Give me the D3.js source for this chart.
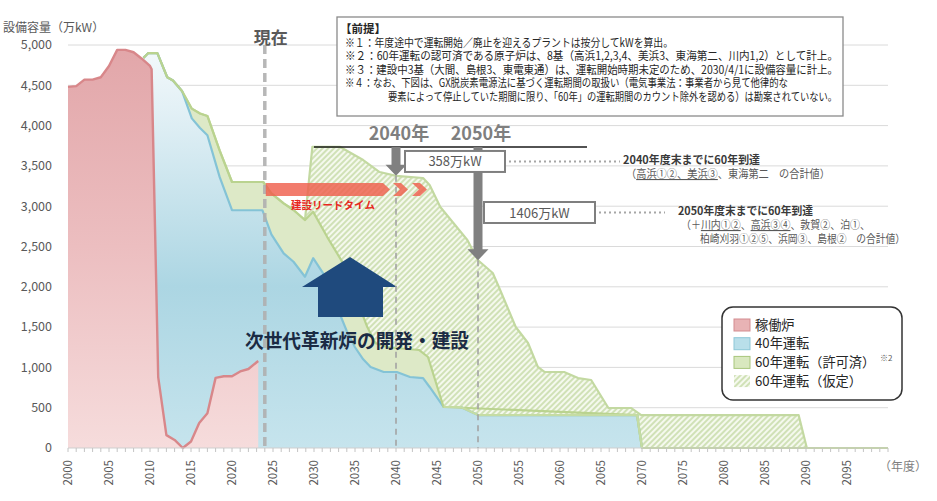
<!DOCTYPE html>
<html>
<head>
<meta charset="utf-8">
<script src="https://cdn.jsdelivr.net/npm/d3@7"></script>
<style>
  body { margin: 0; background: #fff; }
  svg { display: block; font-family: "Noto Sans CJK JP", "Noto Sans", sans-serif; }
</style>
</head>
<body>
<div id="capacityChart"></div>
<script>
// Dados do gráfico //
const xTicks = d3.range(2000, 2100, 5)
const yTicks = d3.range(0, 5001, 500)

// 稼働炉
const redYears  = [2000,2001,2002,2003,2004,2005,2006,2007,2008,2009,2010,2010.2,2011,2012,2013,2014,2015,2016,2017,2018,2019,2020,2021,2022,2023.2]
const redValues = [4480,4490,4570,4570,4600,4740,4940,4940,4910,4830,4740,4700,880,160,100,0,80,310,430,870,890,890,950,980,1080]

// 40年運転
const blueYears  = [2009.2,2009.8,2010.9,2012.1,2012.8,2013.9,2015.1,2016.1,2017,2018.5,2020,2023.7,2024,2024.8,2026.3,2027.5,2028.9,2029.9,2031.1,2032,2033,2034,2035,2036,2036.9,2038.5,2040.1,2041.7,2043.3,2044.1,2045.8,2047.9,2050,2069.4,2070,2100]
const blueValues = [4840,4900,4900,4600,4560,4430,4090,3970,3880,3360,2950,2950,2870,2650,2415,2311,2125,2355,2170,1950,1700,1450,1250,1100,1005,943,943,881,868,757,509,509,409,409,0,0]

// 60年運転（許可済）
const greenYears  = [2009.2,2009.8,2010.9,2012.1,2012.8,2013.9,2015.1,2016.1,2017,2018.5,2020,2023.8,2024.8,2026.3,2027.5,2028.9,2029.9,2031.6,2033.5,2035,2036.5,2037.5,2039,2042.8,2043.9,2045.8,2047.9,2050,2069.4,2070,2100]
const greenValues = [4840,4900,4900,4600,4560,4430,4210,4150,4120,3690,3300,3300,3160,3036,2953,2829,2930,2620,2300,1900,1500,1300,1250,1216,1129,509,509,409,409,0,0]

// 60年運転（仮定）
const hatchYears  = [2009.2,2009.8,2010.9,2012.1,2012.8,2013.9,2015.1,2016.1,2017,2018.5,2020,2023.8,2024.8,2026.3,2027.5,2028.9,2029.8,2033.2,2036,2038,2040,2043.3,2044.1,2045.4,2047,2048.7,2050,2051.8,2052.7,2054.6,2056.1,2057.3,2058.1,2060.5,2062.2,2063.8,2065.9,2068.7,2069.9,2089.1,2090.1,2100]
const hatchValues = [4840,4900,4900,4600,4560,4430,4210,4150,4120,3690,3300,3300,3160,3036,2953,2829,3735,3735,3573,3424,3377,3350,3263,2990,2792,2581,2329,2171,1960,1501,1303,1005,943,943,868,844,496,496,409,409,0,0]

// Anotações
const nowYear = 2024
const peakValue = 3735
const gapYears = [2040, 2050]
const gapValues = [358, 1406]
const legendLabels = ['稼働炉', '40年運転', '60年運転（許可済）', '60年運転（仮定）']
const premiseLines = [
  '※１：年度途中で運転開始／廃止を迎えるプラントは按分してkWを算出。',
  '※２：60年運転の認可済である原子炉は、8基（高浜1,2,3,4、美浜3、東海第二、川内1,2）として計上。',
  '※３：建設中3基（大間、島根3、東電東通）は、運転開始時期未定のため、2030/4/1に設備容量に計上。',
  '※４：なお、下図は、GX脱炭素電源法に基づく運転期間の取扱い（電気事業法：事業者から見て他律的な',
  '要素によって停止していた期間に限り、「60年」の運転期間のカウント除外を認める）は勘案されていない。'
]

var capacityChart = {
  // Renderiza o gráfico //
  render: function(node){
    const svg = d3.select(node).append('svg')
      .attr('width', 937).attr('height', 501)

    const x = d3.scaleLinear().domain([2000, 2100]).range([68, 888])
    const y = d3.scaleLinear().domain([0, 5000]).range([448, 45])

    const defs = svg.append('defs')

    // Gradientes //
    const gradient = function(id, stops){
      const g = defs.append('linearGradient').attr('id', id)
        .attr('gradientUnits', 'userSpaceOnUse')
        .attr('x1', 0).attr('x2', 0).attr('y1', y(5000)).attr('y2', y(0))
      stops.forEach(s => g.append('stop').attr('offset', s[0]).attr('stop-color', s[1]))
    }
    gradient('gRed', [[0, '#e2a6a9'], [0.5, '#ecbec0'], [1, '#f6dcdc']])
    gradient('gBlue', [[0, '#f4f9fb'], [0.15, '#e4f1f6'], [0.6, '#acd6e3'], [1, '#c6e4ed']])

    const pat = defs.append('pattern').attr('id', 'hatch')
      .attr('patternUnits', 'userSpaceOnUse')
      .attr('width', 4).attr('height', 4)
      .attr('patternTransform', 'rotate(45)')
    pat.append('rect').attr('width', 4).attr('height', 4).attr('fill', '#f5f9ee')
    pat.append('line').attr('x1', 1).attr('y1', 0).attr('x2', 1).attr('y2', 4)
      .attr('stroke', '#bdd499').attr('stroke-width', 1.3)

    // Grade //
    svg.append('g').selectAll('line')
      .data(yTicks.filter(v => v > 0))
      .enter().append('line')
      .attr('x1', x(2000)).attr('x2', x(2100))
      .attr('y1', d => y(d)).attr('y2', d => y(d))
      .attr('stroke', '#dadada').attr('stroke-width', 1)

    const serie = (ys, vs) => ys.map((yr, i) => ({ yr: yr, v: vs[i] }))
    const area = d3.area().x(d => x(d.yr)).y0(y(0)).y1(d => y(d.v))
    const line = d3.line().x(d => x(d.yr)).y(d => y(d.v))

    const hatch = serie(hatchYears, hatchValues)
    const green = serie(greenYears, greenValues)
    const blue = serie(blueYears, blueValues)
    const red = serie(redYears, redValues)

    const plot = svg.append('g')
    plot.append('path').attr('d', area(hatch)).attr('fill', 'url(#hatch)')
    plot.append('path').attr('d', area(green)).attr('fill', '#dde9c7')
    plot.append('path').attr('d', area(blue)).attr('fill', 'url(#gBlue)')
    plot.append('path').attr('d', line(hatch)).attr('fill', 'none')
      .attr('stroke', '#c3d9a1').attr('stroke-width', 2.2).attr('stroke-linejoin', 'round')
    plot.append('path').attr('d', line(blue)).attr('fill', 'none')
      .attr('stroke', '#84c3d6').attr('stroke-width', 2.2).attr('stroke-linejoin', 'round')
    plot.append('path').attr('d', line(green.filter(d => d.yr <= 2045.8 || d.yr >= 2069.4))).attr('fill', 'none')
      .attr('stroke', '#bad38f').attr('stroke-width', 2.2).attr('stroke-linejoin', 'round')
    plot.append('path').attr('d', line(green.filter(d => d.yr >= 2045.8 && d.yr <= 2070))).attr('fill', 'none')
      .attr('stroke', '#c5dca3').attr('stroke-width', 2.2).attr('stroke-linejoin', 'round')
    plot.append('path').attr('d', area(red)).attr('fill', 'url(#gRed)')
    plot.append('path').attr('d', line(red)).attr('fill', 'none')
      .attr('stroke', '#d8878a').attr('stroke-width', 2.4).attr('stroke-linejoin', 'round')

    // Eixo X //
    const axis = svg.append('g').attr('fill', '#595959')
    axis.append('line').attr('x1', x(2000)).attr('x2', x(2100))
      .attr('y1', y(0)).attr('y2', y(0)).attr('stroke', '#cfcfcf')
    axis.selectAll('line.tick').data(d3.range(2000, 2101)).enter()
      .append('line').attr('class', 'tick')
      .attr('x1', d => x(d)).attr('x2', d => x(d))
      .attr('y1', y(0)).attr('y2', y(0) + 4)
      .attr('stroke', '#c4c4c4').attr('stroke-width', 1)
    axis.selectAll('text.xl').data(xTicks).enter()
      .append('text').attr('class', 'xl')
      .attr('transform', d => 'translate(' + x(d) + ',' + (y(0) + 12) + ') rotate(-90)')
      .attr('text-anchor', 'end').attr('dy', '0.35em')
      .attr('font-size', 11.5)
      .text(d => d)
    axis.append('text').attr('x', 879).attr('y', 471)
      .attr('font-size', 12).attr('fill', '#7f7f7f').text('（年度）')

    // Eixo Y //
    axis.selectAll('text.yl').data(yTicks).enter()
      .append('text').attr('class', 'yl')
      .attr('x', 52).attr('y', d => y(d)).attr('dy', '0.35em')
      .attr('text-anchor', 'end').attr('font-size', 12.5)
      .text(d => d3.format(',')(d))
    axis.append('text').attr('x', 3).attr('y', 32)
      .attr('font-size', 12).text('設備容量（万kW）')

    // Linha "現在" //
    svg.append('line').attr('x1', x(nowYear)).attr('x2', x(nowYear))
      .attr('y1', y(5000)).attr('y2', y(0) + 2)
      .attr('stroke', '#b0b0b0').attr('stroke-width', 3.5).attr('stroke-dasharray', '9,5')
      .attr('opacity', 0.9)
    svg.append('text').attr('x', x(nowYear) + 6).attr('y', 44)
      .attr('text-anchor', 'middle').attr('font-size', 17).attr('font-weight', 'bold')
      .attr('fill', '#595959').text('現在')

    // 建設リードタイム //
    const ly0 = 183, ly1 = 196, lm = (ly0 + ly1) / 2
    const lead = svg.append('g').attr('fill', '#f0604e').attr('opacity', 0.82)
    lead.append('polygon').attr('points', [
      [x(nowYear) + 1, ly0], [383, ly0], [390, lm], [383, ly1], [x(nowYear) + 1, ly1]
    ].join(' '))
    ;[0, 19].forEach(dx => {
      lead.append('polygon').attr('points', [
        [393 + dx, ly0], [401 + dx, ly0], [408 + dx, lm], [401 + dx, ly1], [393 + dx, ly1], [400 + dx, lm]
      ].join(' '))
    })
    svg.append('text').attr('x', 333).attr('y', 209)
      .attr('text-anchor', 'middle').attr('font-size', 10.5).attr('font-weight', 'bold')
      .attr('fill', '#e8281e').text('建設リードタイム')

    // Seta azul //
    const ax = 350
    svg.append('polygon').attr('fill', '#1f4a7d').attr('points', [
      [ax, 257], [ax + 47, 287], [ax + 33, 287], [ax + 33, 317],
      [ax - 32, 317], [ax - 32, 287], [ax - 48, 287]
    ].join(' '))
    svg.append('text').attr('x', 357).attr('y', 348)
      .attr('text-anchor', 'middle').attr('font-size', 19.5).attr('font-weight', 'bold')
      .attr('fill', '#1b2b44').attr('textLength', 224).attr('lengthAdjust', 'spacingAndGlyphs')
      .text('次世代革新炉の開発・建設')

    // Marcas 2040 / 2050 //
    const yPeak = y(peakValue)
    svg.append('line').attr('x1', x(2030)).attr('x2', 587)
      .attr('y1', yPeak).attr('y2', yPeak)
      .attr('stroke', '#1a1a1a').attr('stroke-width', 1.5)
    gapYears.forEach((yr, i) => {
      const cx = x(yr), tip = y(peakValue - gapValues[i])
      svg.append('line').attr('x1', cx).attr('x2', cx).attr('y1', tip).attr('y2', y(0))
        .attr('stroke', '#a3a3a3').attr('stroke-width', 1.6).attr('stroke-dasharray', '6,5')
      svg.append('polygon').attr('fill', '#808080').attr('points', [
        [cx - 4.5, yPeak], [cx + 4.5, yPeak], [cx + 4.5, tip - 11], [cx + 10.5, tip - 11],
        [cx, tip], [cx - 10.5, tip - 11], [cx - 4.5, tip - 11]
      ].join(' '))
      svg.append('text').attr('x', cx + 3).attr('y', 140)
        .attr('text-anchor', 'middle').attr('font-size', 18).attr('font-weight', 'bold')
        .attr('fill', '#7f7f7f').text(yr + '年')
    })

    // Caixas de valores //
    const boxes = [
      { x0: x(2040) + 9, y0: yPeak + 4, w: 100, dotEnd: 620 },
      { x0: x(2050) + 6, y0: 202, w: 111, dotEnd: 665 }
    ]
    boxes.forEach((b, i) => {
      svg.append('line').attr('x1', b.x0 + b.w + 4).attr('x2', b.dotEnd)
        .attr('y1', b.y0 + 10.5).attr('y2', b.y0 + 10.5)
        .attr('stroke', '#a6a6a6').attr('stroke-width', 2).attr('stroke-dasharray', '2,3')
      svg.append('rect').attr('x', b.x0).attr('y', b.y0).attr('width', b.w).attr('height', 21)
        .attr('fill', '#fff').attr('stroke', '#7f7f7f').attr('stroke-width', 2)
      svg.append('text').attr('x', b.x0 + b.w / 2).attr('y', b.y0 + 15.5)
        .attr('text-anchor', 'middle').attr('font-size', 13).attr('fill', '#595959')
        .text(gapValues[i] + '万kW')
    })

    // Textos das notas //
    const note = function(tx, ty, len, parts, bold){
      const t = svg.append('text').attr('x', tx).attr('y', ty)
        .attr('font-size', 11).attr('fill', bold ? '#3a3a3a' : '#595959')
        .attr('font-weight', bold ? 'bold' : 'normal')
        .attr('textLength', len).attr('lengthAdjust', 'spacingAndGlyphs')
      parts.forEach(p => {
        const s = t.append('tspan').text(p[0])
        if (p[1]) s.style('text-decoration', 'underline')
      })
    }
    note(623, 164, 137, [['2040年度末までに60年到達']], true)
    note(626, 178, 204, [['（'], ['高浜①②、美浜③', 1], ['、東海第二　の合計値）']])
    note(678, 215, 135, [['2050年度末までに60年到達']], true)
    note(681, 229, 189, [['（＋'], ['川内①②', 1], ['、'], ['高浜③④', 1], ['、敦賀②、泊①、']])
    note(700, 243, 205, [['柏崎刈羽①②⑤、浜岡③、島根②　の合計値）']])

    // Caixa de premissas //
    const prem = svg.append('g')
    prem.append('rect').attr('x', 337).attr('y', 17).attr('width', 506).attr('height', 99)
      .attr('fill', '#fff').attr('stroke', '#8a8a8a').attr('stroke-width', 1.3)
    prem.append('text').attr('x', 340).attr('y', 33)
      .attr('font-size', 11.5).attr('font-weight', 'bold').attr('fill', '#262626').text('【前提】')
    const premY = [46.5, 60, 73.5, 87, 100.5]
    const premX = [345, 345, 345, 345, 388]
    const premW = [328, 493, 493, 443, 449]
    premiseLines.forEach((s, i) => {
      prem.append('text').attr('x', premX[i]).attr('y', premY[i])
        .attr('font-size', 11.5).attr('fill', '#262626')
        .attr('textLength', premW[i]).attr('lengthAdjust', 'spacingAndGlyphs')
        .text(s)
    })

    // Legenda //
    const leg = svg.append('g')
    leg.append('rect').attr('x', 722).attr('y', 307).attr('width', 180).attr('height', 93)
      .attr('rx', 11).attr('fill', '#fff').attr('stroke', '#333').attr('stroke-width', 1.5)
    const swFill = ['#e8b3b5', '#b9dfea', '#d9e8bf', 'url(#hatch)']
    const swStroke = ['#d48c8f', '#8dc7d8', '#a8c67c', 'none']
    legendLabels.forEach((lab, i) => {
      const cy = 325 + i * 18.7
      leg.append('rect').attr('x', 734).attr('y', cy - 6).attr('width', 16).attr('height', 12)
        .attr('fill', swFill[i]).attr('stroke', swStroke[i]).attr('stroke-width', 1)
      leg.append('text').attr('x', 755).attr('y', cy).attr('dy', '0.36em')
        .attr('font-size', 13.2).attr('fill', '#262626').text(lab)
    })
    leg.append('text').attr('x', 880).attr('y', 361)
      .attr('font-size', 8).attr('fill', '#595959').text('※2')
  }
}

// Chama o Gráfico //
capacityChart.render('#capacityChart')
</script>
</body>
</html>
